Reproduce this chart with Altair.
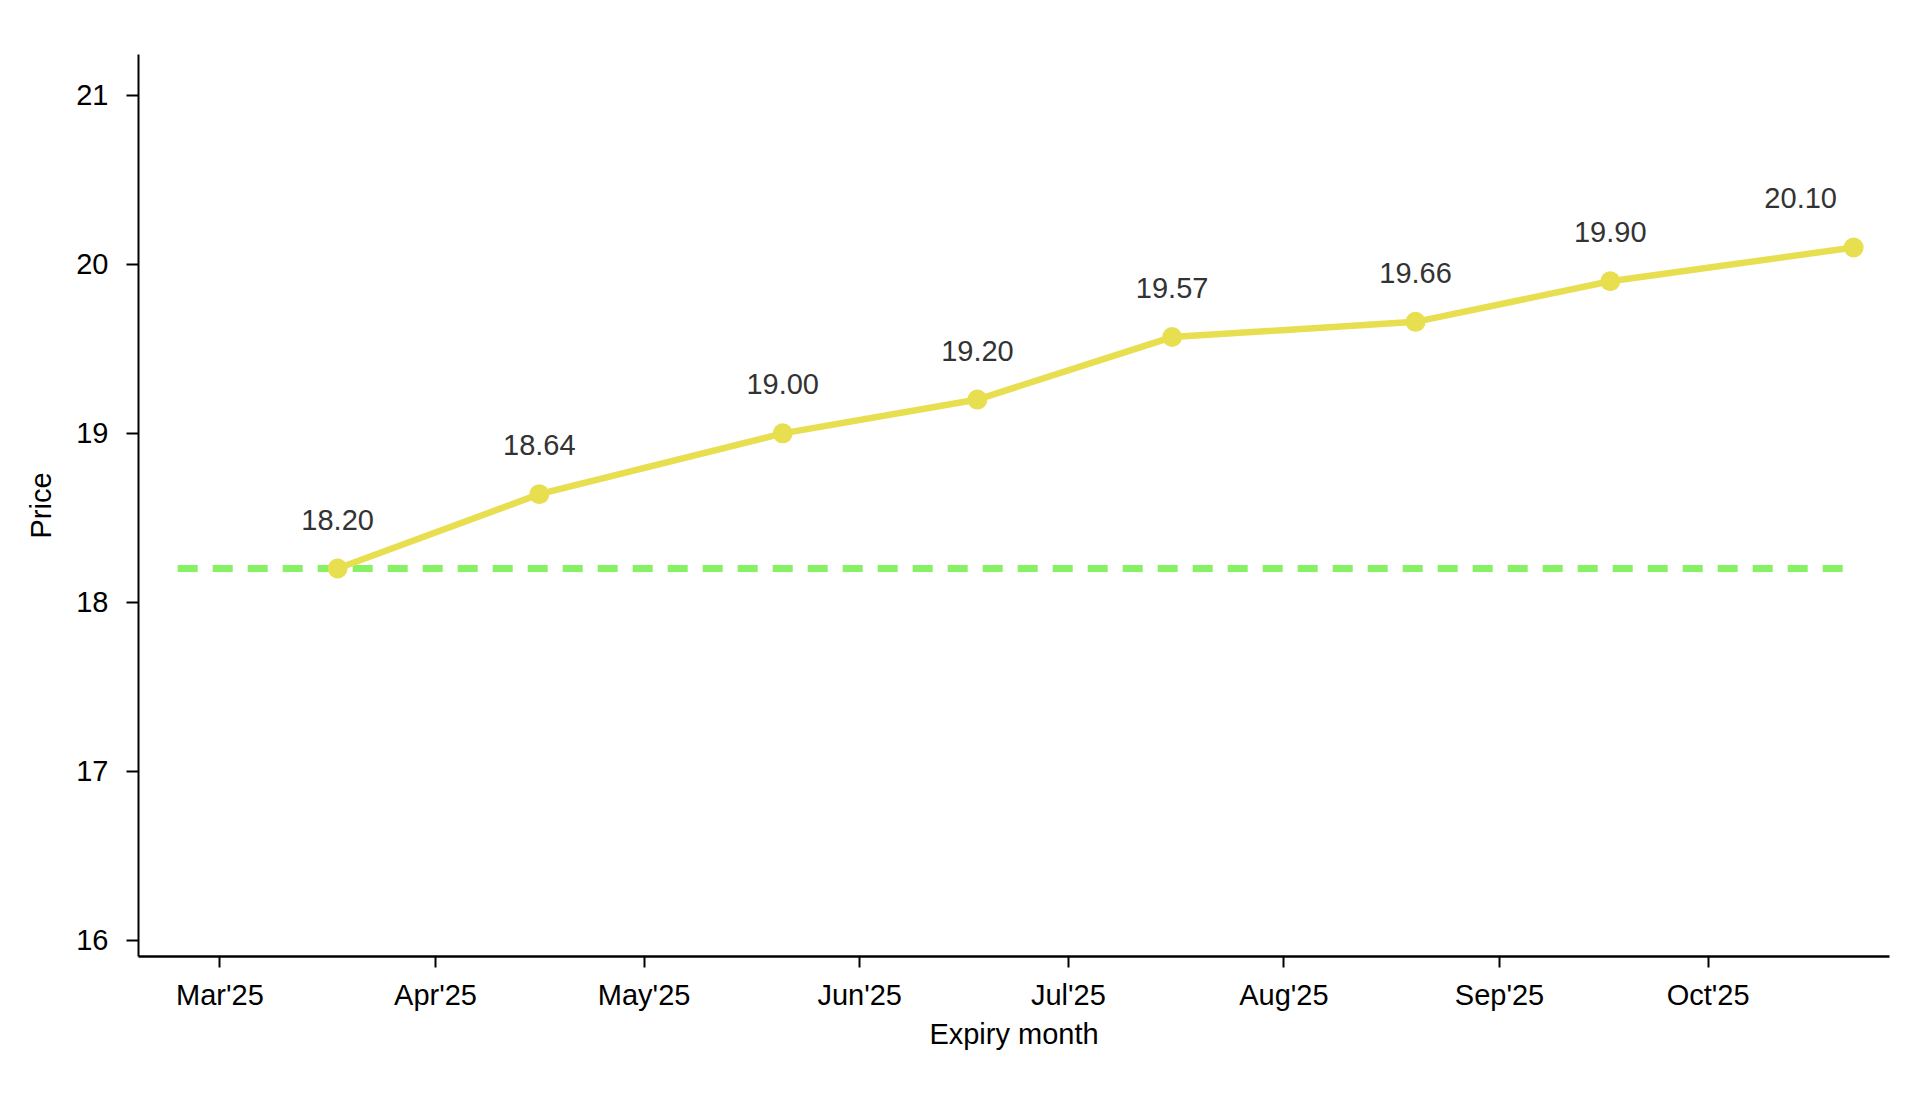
import altair as alt
import pandas as pd

# ---- data ----
expiry = ["2025-03-18", "2025-04-16", "2025-05-21", "2025-06-18",
          "2025-07-16", "2025-08-20", "2025-09-17", "2025-10-22"]
price = [18.20, 18.64, 19.00, 19.20, 19.57, 19.66, 19.90, 20.10]
spot_price = 18.20
spot_start = "2025-02-23"
spot_end = "2025-10-22"
y_ticks = [16, 17, 18, 19, 20, 21]
x_tick_months = [3, 4, 5, 6, 7, 8, 9, 10]

FONT = "Liberation Sans"
LINE_COLOR = "#e8df50"
SPOT_COLOR = "#86f163"

df = pd.DataFrame({"expiry": expiry, "price": price})
last_price = price[-1]
spot_df = pd.DataFrame({"start": [spot_start], "end": [spot_end], "spot": [spot_price]})

x_scale = alt.Scale(
    type="utc",
    domain=[alt.DateTime(year=2025, month=2, date=17, hours=7, utc=True),
            alt.DateTime(year=2025, month=10, date=27, hours=2, utc=True)],
    nice=False,
)
y_scale = alt.Scale(domain=[15.907, 21.245], nice=False, zero=False)

x_axis = alt.Axis(
    values=[alt.DateTime(year=2025, month=m, date=1, utc=True) for m in x_tick_months],
    labelExpr="utcFormat(datum.value, '%b') + \"'\" + utcFormat(datum.value, '%y')",
    title="Expiry month", grid=False,
    domainColor="black", domainWidth=2.5,
    tickColor="black", tickWidth=2, tickSize=11,
    labelFontSize=29, labelColor="black", labelPadding=14, labelFont=FONT,
    titleFontSize=29, titleFontWeight="normal", titleColor="black", titleFont=FONT,
    titlePadding=10, labelFlush=False, labelOverlap=False,
)
y_axis = alt.Axis(
    values=y_ticks, format="d",
    title="Price", grid=False,
    domainColor="black", domainWidth=2,
    tickColor="black", tickWidth=2, tickSize=12,
    labelFontSize=29, labelColor="black", labelPadding=18, labelFont=FONT,
    titleFontSize=29, titleFontWeight="normal", titleColor="black", titleFont=FONT,
    titlePadding=19,
)

base = alt.Chart(df)

spot_rule = alt.Chart(spot_df).mark_rule(
    color=SPOT_COLOR, strokeWidth=7, strokeDash=[20, 15], strokeCap="butt"
).encode(
    x=alt.X("start:T", scale=x_scale, axis=x_axis),
    x2="end:T",
    y=alt.Y("spot:Q", scale=y_scale, axis=y_axis),
)

line = base.mark_line(color=LINE_COLOR, strokeWidth=6.5).encode(
    x=alt.X("expiry:T", scale=x_scale, axis=x_axis),
    y=alt.Y("price:Q", scale=y_scale, axis=y_axis),
)

points = base.mark_circle(color=LINE_COLOR, size=400, opacity=1).encode(
    x="expiry:T", y="price:Q",
)

labels = base.transform_filter(
    alt.datum.price != last_price
).mark_text(
    font=FONT, fontSize=29, color="#333333", baseline="alphabetic", align="center", dy=-39
).encode(
    x="expiry:T", y="price:Q", text=alt.Text("price:Q", format=".2f"),
)

last_label = base.transform_filter(
    alt.datum.price == last_price
).mark_text(
    font=FONT, fontSize=29, color="#333333", baseline="alphabetic", align="center", dy=-39, dx=-53
).encode(
    x="expiry:T", y="price:Q", text=alt.Text("price:Q", format=".2f"),
)

chart = alt.layer(spot_rule, line, points, labels, last_label).properties(
    width=1751, height=902,
    autosize=alt.AutoSizeParams(type="none"),
    padding={"left": 130, "top": 46, "right": 8, "bottom": 120},
    background="white",
).configure(font=FONT).configure_view(stroke=None)

chart.save("out.html", embed_options={"renderer": "svg", "actions": False})
